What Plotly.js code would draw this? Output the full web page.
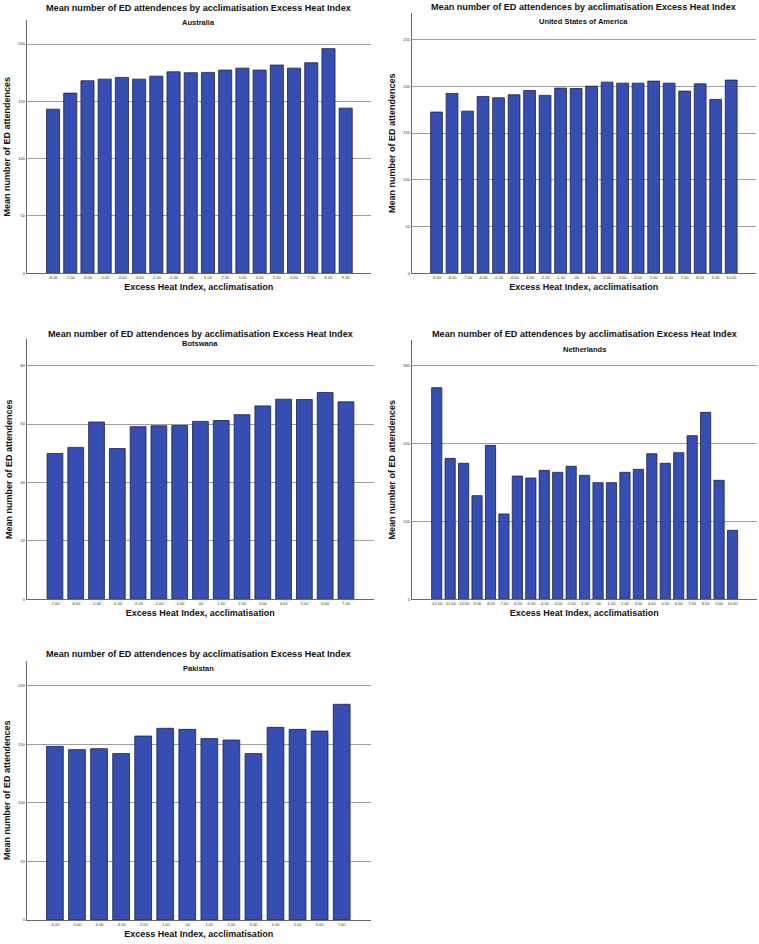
<!DOCTYPE html>
<html>
<head>
<meta charset="utf-8">
<script src="https://cdn.plot.ly/plotly-3.0.1.min.js"></script>
<style>html,body{margin:0;padding:0;background:#fff;}#chart{width:759px;height:944px;}</style>
</head>
<body>
<div id="chart"></div>
<script>
// ---- Data ----
const chartTitle = "Mean number of ED attendences by acclimatisation Excess Heat Index";
const xTitle = "Excess Heat Index, acclimatisation";
const yTitle = "Mean number of ED attendences";

const ausName = "Australia";
const ausCats = ["-8.00","-7.00","-6.00","-5.00","-4.00","-3.00","-2.00","-1.00",".00","1.00","2.00","3.00","4.00","5.00","6.00","7.00","8.00","9.00"];
const ausVals = [143.2,157.2,168.0,169.4,170.9,169.4,172.0,175.8,175.0,175.3,177.3,179.0,177.3,181.7,179.0,183.7,196.0,144.1];

const usaName = "United States of America";
const usaCats = ["-9.00","-8.00","-7.00","-6.00","-5.00","-4.00","-3.00","-2.00","-1.00",".00","1.00","2.00","3.00","4.00","5.00","6.00","7.00","8.00","9.00","10.00"];
const usaVals = [172.4,192.3,173.4,189.1,187.7,190.9,195.5,190.2,198.0,197.6,200.1,204.4,203.3,203.3,205.5,203.3,194.8,202.6,185.9,206.6];

const botName = "Botswana";
const botCats = ["-7.00","-6.00","-5.00","-4.00","-3.00","-2.00","-1.00",".00","1.00","2.00","3.00","4.00","5.00","6.00","7.00"];
const botVals = [49.9,52.0,60.7,51.6,59.1,59.4,59.5,60.9,61.2,63.2,66.2,68.5,68.4,70.8,67.6];

const nldName = "Netherlands";
const nldCats = ["-12.00","-11.00","-10.00","-9.00","-8.00","-7.00","-6.00","-5.00","-4.00","-3.00","-2.00","-1.00",".00","1.00","2.00","3.00","4.00","5.00","6.00","7.00","8.00","9.00","10.00"];
const nldVals = [271.8,181.0,174.6,133.1,197.7,109.6,158.3,155.8,165.6,163.1,170.8,159.2,149.8,149.8,163.1,166.9,187.0,174.6,188.3,210.1,240.1,152.8,88.6];

const pakName = "Pakistan";
const pakCats = ["-6.00","-5.00","-4.00","-3.00","-2.00","-1.00",".00","1.00","2.00","3.00","4.00","5.00","6.00","7.00"];
const pakVals = [148.2,145.4,146.2,142.0,157.0,163.6,162.7,154.8,153.6,142.0,164.4,162.7,161.3,184.1];

// ---- Layout helpers ----
const W = 759, H = 944;
const FONT = "Liberation Sans, Arial, sans-serif";
const barFill = "rgb(54,78,178)";
const barLine = "rgb(28,32,78)";

// panels: pixel boxes [left, right, top, bottom], y range max, dtick, x padding (slots) left/right
const panels = [
  {name: ausName, cats: ausCats, vals: ausVals, box: [26.7, 371, 20, 273.3], ymax: 221, dtick: 50, pad: [1.53, 1.47], titleY: 8, subY: 23, xtY: 291},
  {name: usaName, cats: usaCats, vals: usaVals, box: [411.7, 756, 13.3, 273.3], ymax: 278, dtick: 50, pad: [1.6, 1.6], titleY: 7, subY: 21.5, xtY: 291},
  {name: botName, cats: botCats, vals: botVals, box: [26.7, 374, 339.3, 599.3], ymax: 89, dtick: 20, pad: [1.36, 1.35], titleY: 334, subY: 344, xtY: 617},
  {name: nldName, cats: nldCats, vals: nldVals, box: [411.7, 756.7, 340, 599.3], ymax: 333, dtick: 100, pad: [1.86, 1.8], titleY: 334, subY: 349.5, xtY: 617},
  {name: pakName, cats: pakCats, vals: pakVals, box: [26.7, 371, 660.7, 920], ymax: 221.3, dtick: 50, pad: [1.28, 1.33], titleY: 654, subY: 668.5, xtY: 937}
];

const data = [];
const layout = {
  width: W, height: H,
  margin: {l: 0, r: 0, t: 0, b: 0},
  paper_bgcolor: "#fff", plot_bgcolor: "rgba(0,0,0,0)",
  showlegend: false,
  bargap: 0.24,
  font: {family: FONT, color: "#000"},
  annotations: []
};

panels.forEach((p, i) => {
  const n = i === 0 ? "" : String(i + 1);
  const [l, r, t, b] = p.box;
  data.push({
    type: "bar",
    x: p.cats, y: p.vals,
    xaxis: "x" + n, yaxis: "y" + n,
    marker: {color: barFill, line: {color: barLine, width: 0.8}},
    hoverinfo: "x+y"
  });
  layout["xaxis" + n] = {
    domain: [l / W, r / W],
    anchor: "y" + n,
    type: "category",
    range: [-p.pad[0], p.cats.length - 1 + p.pad[1]],
    showline: true, linecolor: "#6a6a6a", linewidth: 1,
    showgrid: false, zeroline: false, ticks: "",
    tickfont: {size: 4, color: "#333", family: FONT},
    tickangle: 0,
    title: {text: "<b>" + xTitle + "</b>", font: {size: 9, family: FONT, color: "#111"}, standoff: 4},
    automargin: false, fixedrange: true
  };
  layout["yaxis" + n] = {
    domain: [1 - b / H, 1 - t / H],
    anchor: "x" + n,
    range: [0, p.ymax],
    dtick: p.dtick, tick0: 0,
    showline: true, linecolor: "#6a6a6a", linewidth: 1,
    showgrid: true, gridcolor: "#a0a0a0", gridwidth: 1,
    zeroline: false, ticks: "",
    tickfont: {size: 4, color: "#333", family: FONT},
    title: {text: "<b>" + yTitle + "</b>", font: {size: 9, family: FONT, color: "#111"}, standoff: 6},
    automargin: false, fixedrange: true
  };
  const cx = ((l + r) / 2) / W;
  layout.annotations.push({
    text: "<b>" + chartTitle + "</b>", xref: "paper", yref: "paper",
    x: cx, y: 1 - p.titleY / H, xanchor: "center", yanchor: "middle",
    showarrow: false, font: {size: 9.1, family: FONT, color: "#111"}
  });
  layout.annotations.push({
    text: "<b>" + p.name + "</b>", xref: "paper", yref: "paper",
    x: cx, y: 1 - p.subY / H, xanchor: "center", yanchor: "middle",
    showarrow: false, font: {size: 7.5, family: FONT, color: "#111"}
  });
});

Plotly.newPlot("chart", data, layout, {displayModeBar: false, staticPlot: true});
</script>
</body>
</html>
